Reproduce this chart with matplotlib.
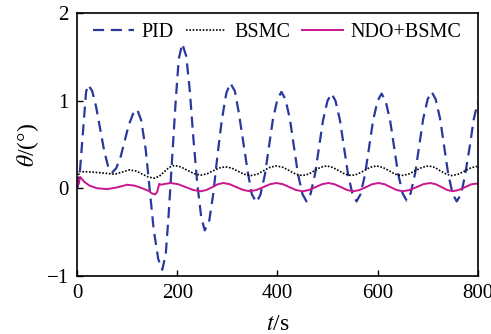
import matplotlib
matplotlib.use("Agg")
import matplotlib.pyplot as plt

# ====== Data ======
t_pid = [0, 4, 7, 11, 15, 18, 22, 30, 38, 46, 54, 62, 70, 78, 87, 95, 103, 112, 120,
         128, 137, 145, 153, 162, 170, 177, 183, 190, 197, 203, 210, 218, 225, 232, 240,
         248, 255, 264, 272, 280, 289, 298, 306, 315, 323, 332, 341, 349, 358, 366, 375,
         383, 391, 400, 408, 416, 425, 433, 441, 450, 458, 466, 475, 483, 491, 500, 508,
         516, 525, 533, 541, 550, 558, 566, 575, 583, 591, 600, 608, 616, 625, 633, 641,
         650, 658, 666, 675, 683, 691, 700, 708, 716, 725, 733, 741, 750, 758, 767, 775,
         784, 792, 800]
pid = [0.0, 0.079, 0.295, 0.59, 0.885, 1.101, 1.18, 1.113, 0.93, 0.68, 0.43, 0.247, 0.18,
       0.228, 0.36, 0.54, 0.72, 0.852, 0.90, 0.777, 0.443, -0.015, -0.473, -0.807, -0.93,
       -0.757, -0.285, 0.36, 1.005, 1.477, 1.65, 1.507, 1.117, 0.585, 0.053, -0.337, -0.48,
       -0.367, -0.06, 0.36, 0.78, 1.087, 1.20, 1.109, 0.86, 0.52, 0.18, -0.069, -0.16,
       -0.076, 0.155, 0.47, 0.785, 1.016, 1.10, 1.016, 0.788, 0.475, 0.163, -0.066, -0.15,
       -0.068, 0.158, 0.465, 0.773, 0.998, 1.08, 0.998, 0.773, 0.465, 0.158, -0.068, -0.15,
       -0.068, 0.158, 0.465, 0.773, 0.998, 1.08, 0.998, 0.775, 0.47, 0.165, -0.058, -0.14,
       -0.057, 0.17, 0.48, 0.79, 1.017, 1.10, 1.016, 0.788, 0.475, 0.163, -0.066, -0.15,
       -0.066, 0.163, 0.475, 0.788, 0.98]

t_bsmc = [0, 4, 20, 40, 58, 75, 90, 105, 118, 130, 142, 154, 164, 174, 184, 194, 207, 220,
          234, 247, 259, 271, 284, 296, 309, 321, 334, 347, 360, 372, 385, 398, 411, 424,
          437, 450, 462, 474, 486, 498, 510, 523, 535, 548, 560, 573, 585, 598, 610, 623,
          635, 648, 662, 675, 689, 702, 714, 725, 737, 748, 761, 774, 787, 800]
bsmc = [0.0, 0.19, 0.188, 0.18, 0.17, 0.16, 0.185, 0.21, 0.196, 0.162, 0.129, 0.115,
        0.136, 0.188, 0.239, 0.26, 0.244, 0.205, 0.166, 0.15, 0.164, 0.198, 0.231, 0.245,
        0.23, 0.195, 0.16, 0.145, 0.161, 0.20, 0.239, 0.255, 0.239, 0.20, 0.161, 0.145,
        0.161, 0.20, 0.239, 0.255, 0.239, 0.20, 0.161, 0.145, 0.161, 0.20, 0.239, 0.255,
        0.239, 0.20, 0.161, 0.145, 0.161, 0.20, 0.239, 0.255, 0.239, 0.20, 0.161, 0.145,
        0.16, 0.198, 0.235, 0.25]

t_ndo = [0, 6, 15, 25, 40, 60, 80, 100, 115, 130, 143, 150, 156, 160, 164, 168, 175, 187,
         202, 217, 232, 247, 258, 270, 281, 292, 305, 318, 332, 345, 358, 372, 385, 398,
         411, 424, 437, 450, 463, 476, 489, 502, 514, 527, 539, 552, 564, 577, 589, 602,
         614, 626, 638, 650, 664, 678, 691, 705, 716, 728, 739, 750, 762, 775, 787, 800]
ndo = [0.0, 0.13, 0.07, 0.03, 0.0, -0.01, 0.01, 0.04, 0.03, 0.0, -0.03, -0.06, -0.07,
       -0.04, 0.05, 0.04, 0.05, 0.06, 0.046, 0.013, -0.02, -0.034, -0.02, 0.013, 0.046,
       0.06, 0.046, 0.013, -0.02, -0.034, -0.02, 0.013, 0.046, 0.06, 0.046, 0.013, -0.02,
       -0.034, -0.02, 0.013, 0.046, 0.06, 0.046, 0.013, -0.02, -0.034, -0.02, 0.013, 0.046,
       0.06, 0.046, 0.013, -0.02, -0.034, -0.02, 0.013, 0.046, 0.06, 0.046, 0.013, -0.02,
       -0.034, -0.02, 0.013, 0.045, 0.055]

xticks = [0, 200, 400, 600, 800]
yticks = [-1, 0, 1, 2]

# ====== Style ======
plt.rcParams['font.family'] = ['Liberation Serif', 'DejaVu Serif']
plt.rcParams['mathtext.fontset'] = 'stix'

fig = plt.figure(figsize=(4.91, 3.34), dpi=100)
ax = fig.add_axes([0.157, 0.174, 0.816, 0.787])

ax.plot(t_pid, pid, color='#28399c', lw=1.6, dashes=(5, 3), label='PID')
ax.plot(t_bsmc, bsmc, color='black', lw=1.2, ls=(0, (1, 1)), label='BSMC')
ax.plot(t_ndo, ndo, color='#c8168f', lw=1.4, label='NDO+BSMC')

ax.set_xlim(0, 800)
ax.set_ylim(-1, 2)
ax.set_xticks(xticks)
ax.set_yticks(yticks)
ax.set_yticklabels(['\u22121', '0', '1', '2'])
ax.tick_params(direction='in', length=4, width=1, labelsize=15, pad=6)
for s in ax.spines.values():
    s.set_linewidth(1.2)

ax.set_xlabel(r'$t$/s', fontsize=17, labelpad=8)
ax.set_ylabel(r'$\theta$/(°)', fontsize=17, labelpad=4)

ax.legend(loc='upper center', ncol=3, frameon=False, fontsize=14.5,
          handlelength=2.0, handletextpad=0.4, columnspacing=0.6,
          borderaxespad=0.1, bbox_to_anchor=(0.5, 1.0))

fig.savefig('out.png', dpi=100)
